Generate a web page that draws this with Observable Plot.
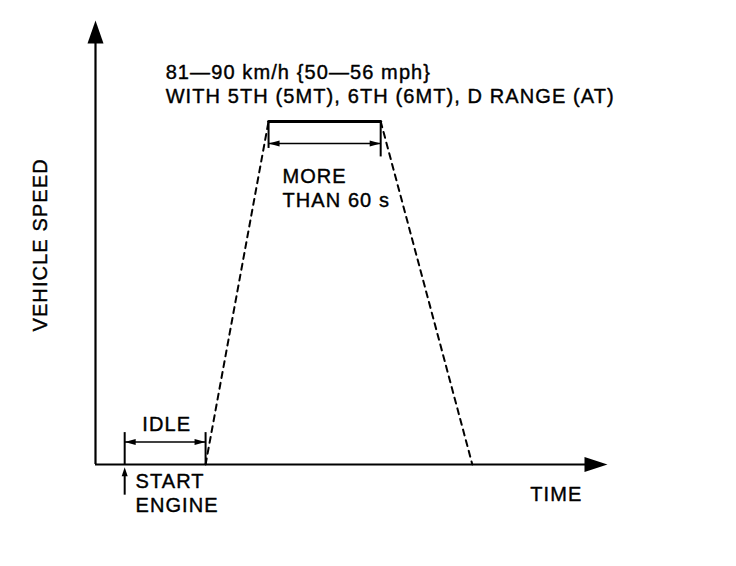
<!DOCTYPE html>
<html><head><meta charset="utf-8">
<script src="https://cdn.jsdelivr.net/npm/d3@7"></script>
<script src="https://cdn.jsdelivr.net/npm/@observablehq/plot@0.6"></script>
<style>html,body{margin:0;padding:0;background:#fff} svg text{letter-spacing:1.1px}</style>
</head><body><div id="chart"></div>
<script>
// Time in arbitrary units, speed in km/h (schematic test-drive profile)
const eventNames = ["start engine", "end idle", "reach speed", "leave speed", "stop"];
const eventTime  = [5.7, 21.5, 33.8, 55.7, 73.6];
const eventSpeed = [0, 0, 85, 85, 0];
const axisMaxTime = 100;
const axisMaxSpeed = 110;
const idleBracketSpeed = 7.9;
const idleArrowSpeed = 5.6;
const holdTickSpeed = [78.3, 76.2];
const holdArrowSpeed = 79.5;
const startArrowSpeed = [-7.6, -0.7];

const labelText  = ["81\u201490 km/h {50\u201456 mph}", "WITH 5TH (5MT), 6TH (6MT), D RANGE (AT)",
                    "MORE", "THAN 60 s", "IDLE", "START", "ENGINE", "TIME", "VEHICLE SPEED"];
const labelTime  = [13.7, 13.7, 36.5, 36.5, 13.9, 7.8, 7.8, 90.0, -10.7];
const labelSpeed = [97.2, 91.2, 71.3, 65.5, 9.8, -4.2, -10.3, -7.4, 54.4];
const labelAnchor = ["start","start","start","start","middle","start","start","middle","middle"];
const labelRotate = [0,0,0,0,0,0,0,0,-90];

const ev = eventNames.map((n, i) => ({n, t: eventTime[i], s: eventSpeed[i]}));
const labels = labelText.map((text, i) => ({text, t: labelTime[i], s: labelSpeed[i], a: labelAnchor[i], r: labelRotate[i]}));

function head(dir, len, hw) {
  return {draw(ctx) {
    if (dir === "up") { ctx.moveTo(0,0); ctx.lineTo(-hw,len); ctx.lineTo(hw,len); }
    else if (dir === "right") { ctx.moveTo(0,0); ctx.lineTo(-len,-hw); ctx.lineTo(-len,hw); }
    else { ctx.moveTo(0,0); ctx.lineTo(len,-hw); ctx.lineTo(len,hw); }
    ctx.closePath();
  }};
}

const font = "'Liberation Sans', Arial, Helvetica, sans-serif";
const txt = (a, r) => Plot.text(labels.filter(d => d.a === a && d.r === r),
  {x: "t", y: "s", text: "text", textAnchor: a, rotate: r, fontSize: 20, fill: "black",
   stroke: "black", strokeWidth: 0.4, fontFamily: font});

const chart = Plot.plot({
  width: 736, height: 566, margin: 0,
  style: {background: "#fff", fontFamily: font},
  x: {domain: [0, axisMaxTime], range: [95, 607], axis: null},
  y: {domain: [0, axisMaxSpeed], range: [464, 20], axis: null},
  marks: [
    // axes
    Plot.ruleY([0], {x1: 0, x2: axisMaxTime - 3, stroke: "black", strokeWidth: 2.2}),
    Plot.ruleX([0], {y1: 0, y2: axisMaxSpeed - 4, stroke: "black", strokeWidth: 2.2}),
    Plot.dot([{t: axisMaxTime, s: 0}], {x: "t", y: "s", symbol: head("right", 23, 7.5), fill: "black", stroke: "none"}),
    Plot.dot([{t: 0, s: axisMaxSpeed}], {x: "t", y: "s", symbol: head("up", 23, 8), fill: "black", stroke: "none"}),
    // dashed ramps
    Plot.line(ev.slice(1, 3), {x: "t", y: "s", stroke: "black", strokeWidth: 2, strokeDasharray: "6,5"}),
    Plot.line(ev.slice(3, 5), {x: "t", y: "s", stroke: "black", strokeWidth: 2, strokeDasharray: "6,5"}),
    // hold bracket
    Plot.line(ev.slice(2, 4), {x: "t", y: "s", stroke: "black", strokeWidth: 3}),
    Plot.ruleX([ev[2], ev[3]], {x: "t", y1: (d, i) => holdTickSpeed[i], y2: "s", stroke: "black", strokeWidth: 2}),
    Plot.link([0], {x1: () => ev[2].t, x2: () => ev[3].t, y1: () => holdArrowSpeed, y2: () => holdArrowSpeed, stroke: "black", strokeWidth: 1.5}),
    Plot.dot([ev[2]], {x: "t", y: () => holdArrowSpeed, symbol: head("left", 11, 3), fill: "black", stroke: "none"}),
    Plot.dot([ev[3]], {x: "t", y: () => holdArrowSpeed, symbol: head("right", 11, 3), fill: "black", stroke: "none"}),
    // idle bracket
    Plot.ruleX([ev[0], ev[1]], {x: "t", y1: 0, y2: idleBracketSpeed, stroke: "black", strokeWidth: 2}),
    Plot.link([0], {x1: () => ev[0].t, x2: () => ev[1].t, y1: () => idleArrowSpeed, y2: () => idleArrowSpeed, stroke: "black", strokeWidth: 1.5}),
    Plot.dot([ev[0]], {x: "t", y: () => idleArrowSpeed, symbol: head("left", 11, 3), fill: "black", stroke: "none"}),
    Plot.dot([ev[1]], {x: "t", y: () => idleArrowSpeed, symbol: head("right", 11, 3), fill: "black", stroke: "none"}),
    // start engine arrow
    Plot.ruleX([ev[0]], {x: "t", y1: startArrowSpeed[0], y2: startArrowSpeed[1] - 1.5, stroke: "black", strokeWidth: 2}),
    Plot.dot([ev[0]], {x: "t", y: () => startArrowSpeed[1], symbol: head("up", 9, 3), fill: "black", stroke: "none"}),
    // labels
    txt("start", 0), txt("middle", 0), txt("middle", -90)
  ]
});
document.getElementById("chart").appendChild(chart);
</script>
</body></html>
